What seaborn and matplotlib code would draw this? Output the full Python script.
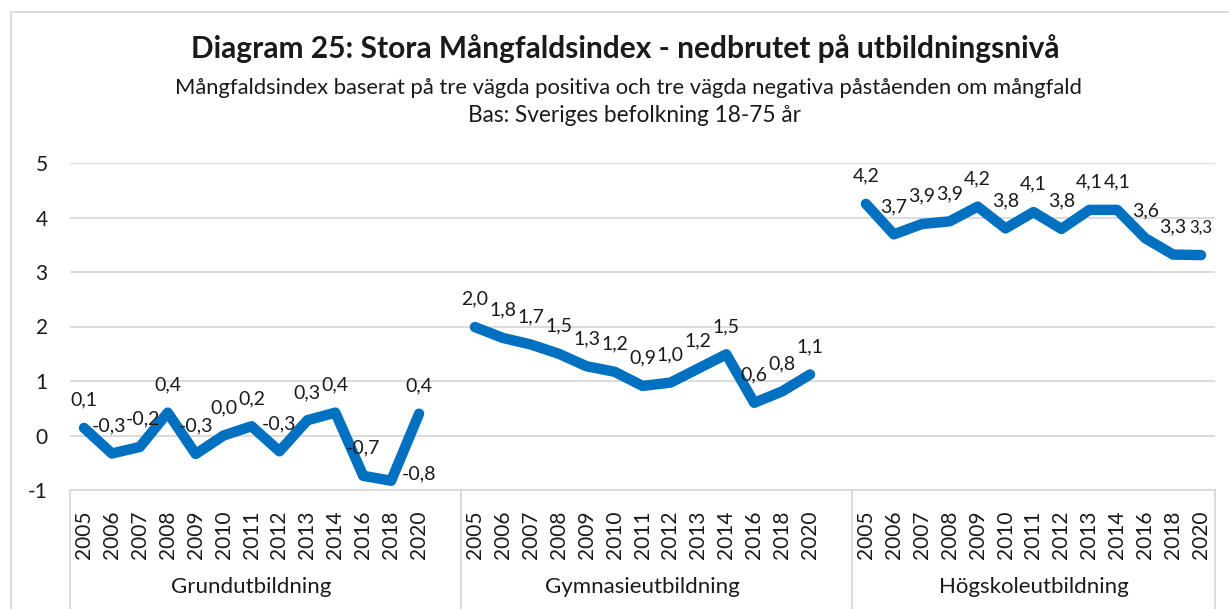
import numpy as np
import pandas as pd
import matplotlib
matplotlib.use("Agg")
import matplotlib.pyplot as plt
import matplotlib.transforms as mtransforms
from matplotlib.patches import Rectangle
import seaborn as sns

# ---------------- data ----------------
groups = ["Grundutbildning", "Gymnasieutbildning", "Högskoleutbildning"]
years = ["2005", "2006", "2007", "2008", "2009", "2010", "2011",
         "2012", "2013", "2014", "2016", "2018", "2020"]
grund = [0.14, -0.33, -0.21, 0.42, -0.34, 0.00, 0.17, -0.29, 0.28, 0.42, -0.74, -0.83, 0.40]
gymn = [1.99, 1.79, 1.67, 1.50, 1.27, 1.17, 0.91, 0.97, 1.23, 1.49, 0.60, 0.81, 1.12]
hogsk = [4.25, 3.69, 3.88, 3.93, 4.20, 3.80, 4.10, 3.79, 4.14, 4.14, 3.62, 3.32, 3.31]

title = "Diagram 25: Stora Mångfaldsindex - nedbrutet på utbildningsnivå"
subtitle = "Mångfaldsindex baserat på tre vägda positiva och tre vägda negativa påståenden om mångfald"
base = "Bas: Sveriges befolkning 18-75 år"

# ---------------- style ----------------
sns.set_theme(style="white")
plt.rcParams['font.family'] = ['Lato', 'DejaVu Sans']
plt.rcParams['axes.unicode_minus'] = False

W, H = 1229, 609
SLOTS = 14
blue = "#0070C0"
grid_c = "#D9D9D9"
txt_c = "#1a1a1a"

rows = []
for g, (name, vals) in enumerate(zip(groups, [grund, gymn, hogsk])):
    for i, (yr, v) in enumerate(zip(years, vals)):
        rows.append(dict(group=name, year=yr, pos=g * SLOTS + i, value=v, gi=g, ii=i))
df = pd.DataFrame(rows)

fig = plt.figure(figsize=(W / 100, H / 100), dpi=100)
ax = fig.add_axes([70 / W, 1 - 490 / H, (1215 - 70) / W, 327 / H])

sns.lineplot(data=df, x="pos", y="value", units="group", estimator=None,
             color=blue, lw=7.5, ax=ax, legend=False,
             solid_capstyle="round", solid_joinstyle="round")

ax.set_xlim(-0.5, 3 * SLOTS - 1.5)
ax.set_ylim(-1, 5)
ax.set_yticks(range(-1, 6))
ax.yaxis.grid(True, color=grid_c, lw=1.3)
ax.set_axisbelow(True)
for s in ["left", "right", "top"]:
    ax.spines[s].set_visible(False)
ax.spines["bottom"].set_color(grid_c)
ax.spines["bottom"].set_linewidth(1.3)

ax.set_xticks(df["pos"])
ax.set_xticklabels(df["year"], rotation=90)
ax.tick_params(axis="x", length=0, pad=15, labelsize=15, colors=txt_c)
ax.tick_params(axis="y", length=0, pad=16, labelsize=15, colors=txt_c)
ax.set_xlabel("")
ax.set_ylabel("")

trans = mtransforms.blended_transform_factory(ax.transData, ax.transAxes)
for b in [-0.5, SLOTS - 0.5, 2 * SLOTS - 0.5, 3 * SLOTS - 1.5]:
    ax.plot([b, b], [0, -0.5], transform=trans, clip_on=False, color=grid_c, lw=1.3)
for g, name in enumerate(groups):
    ax.text(g * SLOTS + 6, (490 - 587) / 327, name, transform=trans,
            ha="center", va="center", fontsize=16, color=txt_c)

# data labels
def fmt(v):
    s = f"{v:.1f}".replace(".", ",")
    return "0,0" if s == "-0,0" else s

for _, r in df.iterrows():
    dx, dy, fs = 0, 20, 14
    if r.gi == 0 and r.year == "2006":
        dx = -2
    if r.gi == 0 and r.year == "2007":
        dx = 2
    if r.gi == 0 and r.year == "2018":
        dx, dy = 20, 5
    if r.gi == 2 and r.year == "2020":
        fs = 12
    ax.annotate(fmt(r.value), (r.pos, r.value), xytext=(dx, dy),
                textcoords="offset points", ha="center", va="center",
                fontsize=fs, color=txt_c)

# titles
fig.text(625 / W, 1 - 49 / H, title, ha="center", va="center",
         fontsize=21.5, fontweight="bold", color=txt_c)
fig.text(628 / W, 1 - 88 / H, subtitle, ha="center", va="center",
         fontsize=15.8, color=txt_c)
fig.text(634 / W, 1 - 116 / H, base, ha="center", va="center",
         fontsize=16.3, color=txt_c)

# outer frame
top = 1 - 12 / H
fig.add_artist(Rectangle((11 / W, -0.1), 1.2, top + 0.1, transform=fig.transFigure,
                         fill=False, ec=grid_c, lw=1.3))

fig.savefig("out.png", dpi=100)
